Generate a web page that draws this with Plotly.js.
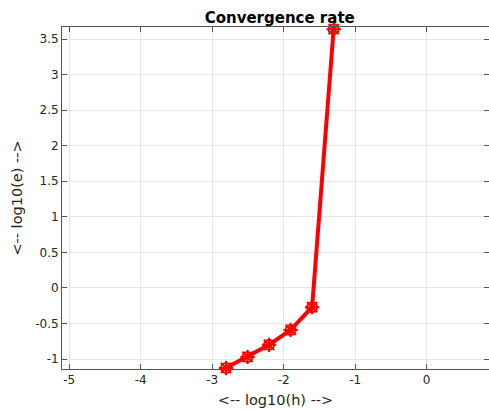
<!DOCTYPE html>
<html>
<head>
<meta charset="utf-8">
<script src="https://cdn.plot.ly/plotly-3.0.1.min.js"></script>
<style>html,body{margin:0;padding:0;background:#fff;}#chart{width:489px;height:411px;}</style>
</head>
<body>
<div id="chart"></div>
<script>
// log10(h) and log10(e)
const logH = [-2.806, -2.505, -2.204, -1.903, -1.602, -1.301];
const logE = [-1.125, -0.97, -0.80, -0.59, -0.27, 3.64];
const xTicks = [-5, -4, -3, -2, -1, 0];
const yTicks = [-1, -0.5, 0, 0.5, 1, 1.5, 2, 2.5, 3, 3.5];

const red = '#ff0000';
const traces = [
  {x: logH, y: logE, mode: 'lines+markers', type: 'scatter', cliponaxis: false,
   line: {color: red, width: 4},
   marker: {symbol: 'circle-open', size: 10, color: red, line: {color: red, width: 2}},
   hoverinfo: 'skip', showlegend: false},
  {x: logH, y: logE, mode: 'markers', type: 'scatter', cliponaxis: false,
   marker: {symbol: 'asterisk-open', size: 12, color: red, line: {color: red, width: 2}},
   hoverinfo: 'skip', showlegend: false}
];

const axisCommon = {
  showgrid: true, gridcolor: '#e6e6e6', gridwidth: 1,
  zeroline: false, showline: true, linecolor: '#555', linewidth: 1,
  mirror: 'ticks', ticks: 'inside', ticklen: 5, tickcolor: '#555',
  tickfont: {family: 'DejaVu Sans', size: 12, color: '#262626'}
};

const layout = {
  width: 489, height: 411,
  margin: {l: 62, r: 0, t: 27, b: 42},
  paper_bgcolor: '#fff', plot_bgcolor: '#fff',
  title: {text: '<b>Convergence rate</b>', font: {family: 'DejaVu Sans', size: 15, color: '#000'},
          x: 0.572, xanchor: 'center', y: 0.958, yanchor: 'middle'},
  xaxis: Object.assign({}, axisCommon, {
    range: [-5.1, 0.872], tickvals: xTicks, ticktext: xTicks.map(String),
    title: {text: '<-- log10(h) -->', font: {family: 'DejaVu Sans', size: 14.5, color: '#262626'}, standoff: 8}
  }),
  yaxis: Object.assign({}, axisCommon, {
    range: [-1.14, 3.67], tickvals: yTicks, ticktext: yTicks.map(String),
    title: {text: '<-- log10(e) -->', font: {family: 'DejaVu Sans', size: 14.5, color: '#262626'}, standoff: 9}
  })
};

Plotly.newPlot('chart', traces, layout, {displayModeBar: false, staticPlot: true});
</script>
</body>
</html>
